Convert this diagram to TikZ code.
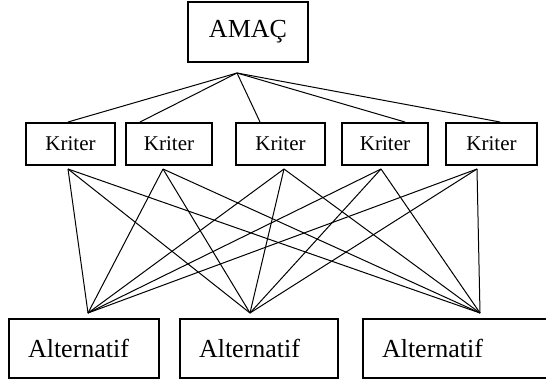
\documentclass[tikz,border=0pt]{standalone}
\usepackage{fontspec}
\setmainfont{Liberation Serif}
\begin{document}
\begin{tikzpicture}[
  x=1pt, y=-1pt,
  goal/.style={rectangle, draw, line width=1.2pt, minimum width=120pt, minimum height=60pt, inner sep=0pt, font=\fontsize{26}{28}\selectfont},
  crit/.style={rectangle, draw, line width=1.2pt, minimum height=42pt, inner sep=0pt, font=\fontsize{21}{23}\selectfont},
  alt/.style={rectangle, draw, line width=1.2pt, minimum height=59pt, inner xsep=19pt, inner ysep=0pt, align=left, font=\fontsize{26}{28}\selectfont},
  line/.style={draw, line width=1pt}
]
  \useasboundingbox (0,0) rectangle (546,383);

  % goal
  \node [goal] (amac) at (248,32) {AMAÇ};
  \coordinate (hub) at (237,73);

  % criteria
  \node [crit, minimum width=89pt] (k1) at (70.5,144) {Kriter};
  \node [crit, minimum width=86pt] (k2) at (169,144) {Kriter};
  \node [crit, minimum width=89pt] (k3) at (280.5,144) {Kriter};
  \node [crit, minimum width=86pt] (k4) at (385,144) {Kriter};
  \node [crit, minimum width=91pt] (k5) at (491.5,144) {Kriter};

  % alternatives
  \node [alt, text width=112pt] (a1) at (84,348.5) {Alternatif};
  \node [alt, text width=120pt] (a2) at (259,348.5) {Alternatif};
  \node [alt, text width=152pt] (a3) at (458,348.5) {Alternatif};

  % connection points
  \foreach \n/\x in {1/68,2/140,3/260,4/405,5/500}
    \coordinate (kt\n) at (\x,122);
  \foreach \n/\x in {1/68,2/163,3/284,4/381,5/477}
    \coordinate (kb\n) at (\x,169);
  \foreach \n/\x in {1/88,2/250,3/480}
    \coordinate (ab\n) at (\x,313);

  \foreach \k in {1,...,5} {
    \draw [line] (hub) -- (kt\k);
    \foreach \a in {1,2,3}
      \draw [line] (kb\k) -- (ab\a);
  }
\end{tikzpicture}
\end{document}
